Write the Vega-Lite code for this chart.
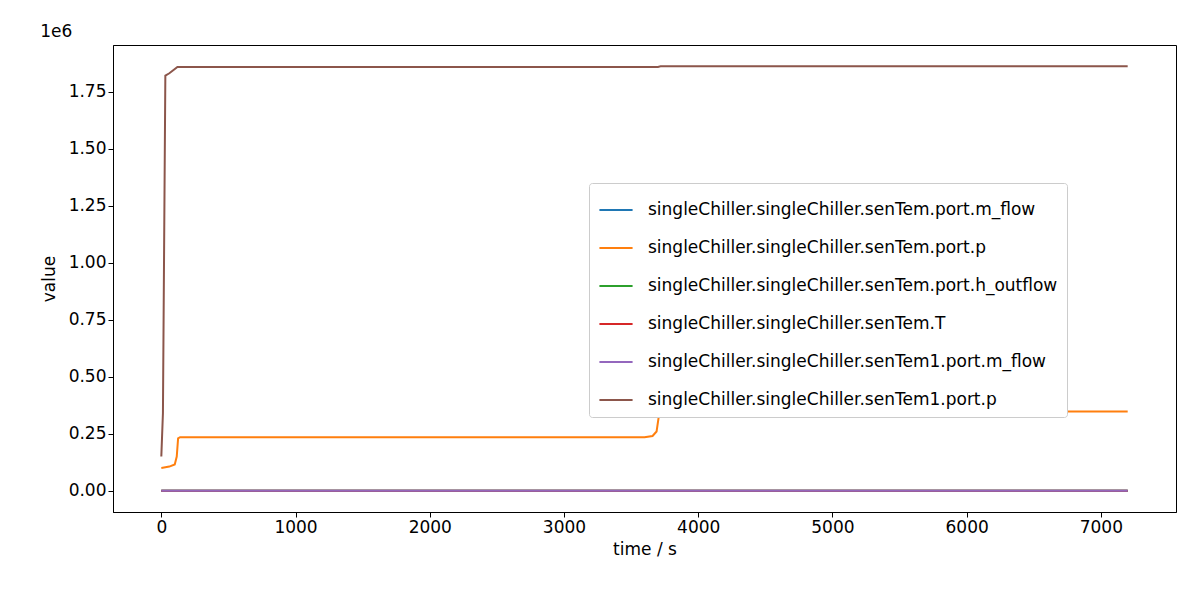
{
  "$schema": "https://vega.github.io/schema/vega-lite/v6.json",
  "width": 1063,
  "height": 467,
  "autosize": {"type": "none"},
  "padding": {"left": 113, "top": 45, "right": 24, "bottom": 88},
  "background": "white",
  "title": {"text": "1e6", "anchor": "start", "fontSize": 17, "fontWeight": "normal", "font": "DejaVu Sans", "offset": 4, "color": "black"},
  "data": {
    "values": [
      {"s": "singleChiller.singleChiller.senTem.port.m_flow", "t": 0, "v": 0},
      {"s": "singleChiller.singleChiller.senTem.port.m_flow", "t": 7200, "v": 0},
      {"s": "singleChiller.singleChiller.senTem.port.p", "t": 0, "v": 100000},
      {"s": "singleChiller.singleChiller.senTem.port.p", "t": 60, "v": 106000},
      {"s": "singleChiller.singleChiller.senTem.port.p", "t": 100, "v": 115000},
      {"s": "singleChiller.singleChiller.senTem.port.p", "t": 115, "v": 150000},
      {"s": "singleChiller.singleChiller.senTem.port.p", "t": 125, "v": 230000},
      {"s": "singleChiller.singleChiller.senTem.port.p", "t": 140, "v": 235000},
      {"s": "singleChiller.singleChiller.senTem.port.p", "t": 3600, "v": 235000},
      {"s": "singleChiller.singleChiller.senTem.port.p", "t": 3660, "v": 240000},
      {"s": "singleChiller.singleChiller.senTem.port.p", "t": 3690, "v": 260000},
      {"s": "singleChiller.singleChiller.senTem.port.p", "t": 3710, "v": 340000},
      {"s": "singleChiller.singleChiller.senTem.port.p", "t": 3740, "v": 348000},
      {"s": "singleChiller.singleChiller.senTem.port.p", "t": 7200, "v": 348000},
      {"s": "singleChiller.singleChiller.senTem.port.h_outflow", "t": 0, "v": 0},
      {"s": "singleChiller.singleChiller.senTem.port.h_outflow", "t": 7200, "v": 0},
      {"s": "singleChiller.singleChiller.senTem.T", "t": 0, "v": 0},
      {"s": "singleChiller.singleChiller.senTem.T", "t": 7200, "v": 0},
      {"s": "singleChiller.singleChiller.senTem1.port.m_flow", "t": 0, "v": 0},
      {"s": "singleChiller.singleChiller.senTem1.port.m_flow", "t": 7200, "v": 0},
      {"s": "singleChiller.singleChiller.senTem1.port.p", "t": 0, "v": 150000},
      {"s": "singleChiller.singleChiller.senTem1.port.p", "t": 12, "v": 340000},
      {"s": "singleChiller.singleChiller.senTem1.port.p", "t": 30, "v": 1820000},
      {"s": "singleChiller.singleChiller.senTem1.port.p", "t": 60, "v": 1830000},
      {"s": "singleChiller.singleChiller.senTem1.port.p", "t": 120, "v": 1858000},
      {"s": "singleChiller.singleChiller.senTem1.port.p", "t": 3700, "v": 1858000},
      {"s": "singleChiller.singleChiller.senTem1.port.p", "t": 3720, "v": 1861000},
      {"s": "singleChiller.singleChiller.senTem1.port.p", "t": 7200, "v": 1861000}
    ]
  },
  "mark": {"type": "line", "strokeWidth": 2, "clip": true},
  "encoding": {
    "x": {
      "field": "t", "type": "quantitative", "title": "time / s",
      "scale": {"domain": [-360, 7560], "nice": false, "zero": false},
      "axis": {"values": [0, 1000, 2000, 3000, 4000, 5000, 6000, 7000], "grid": false, "format": "d"}
    },
    "y": {
      "field": "v", "type": "quantitative", "title": "value",
      "scale": {"domain": [-93000, 1954000], "nice": false, "zero": false},
      "axis": {"values": [0, 250000, 500000, 750000, 1000000, 1250000, 1500000, 1750000], "grid": false, "labelExpr": "format(datum.value / 1e6, '.2f')"}
    },
    "color": {
      "field": "s", "type": "nominal", "title": null,
      "scale": {
        "domain": [
          "singleChiller.singleChiller.senTem.port.m_flow",
          "singleChiller.singleChiller.senTem.port.p",
          "singleChiller.singleChiller.senTem.port.h_outflow",
          "singleChiller.singleChiller.senTem.T",
          "singleChiller.singleChiller.senTem1.port.m_flow",
          "singleChiller.singleChiller.senTem1.port.p"
        ],
        "range": ["#1f77b4", "#ff7f0e", "#2ca02c", "#d62728", "#9467bd", "#8c564b"]
      },
      "legend": {
        "orient": "none", "legendX": 476, "legendY": 138,
        "symbolType": "stroke", "symbolStrokeWidth": 2, "symbolSize": 1100,
        "labelFontSize": 17, "labelFont": "DejaVu Sans", "labelLimit": 700, "labelOffset": 14,
        "rowPadding": 12, "padding": 9,
        "fillColor": "white", "strokeColor": "#cccccc", "cornerRadius": 3
      }
    }
  },
  "config": {
    "view": {"stroke": "black", "strokeWidth": 1},
    "font": "DejaVu Sans",
    "axis": {
      "labelFontSize": 17, "titleFontSize": 17, "labelColor": "black", "titleColor": "black",
      "titleFontWeight": "normal", "domainColor": "black", "tickColor": "black", "tickSize": 5,
      "labelFont": "DejaVu Sans", "titleFont": "DejaVu Sans"
    },
    "axisX": {"titlePadding": 6},
    "axisY": {"titlePadding": 10}
  }
}
